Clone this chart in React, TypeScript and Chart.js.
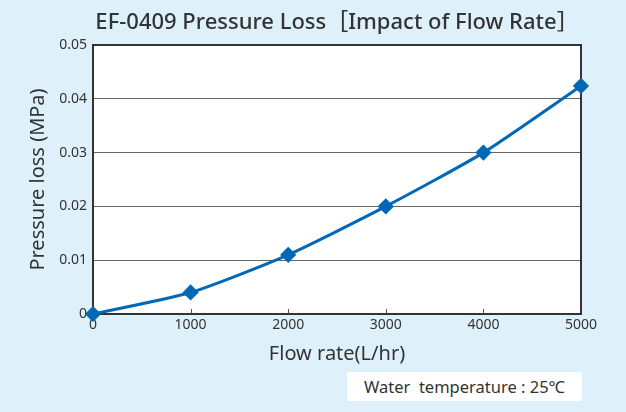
import React, { useEffect, useRef } from "react";
import { Chart, registerables } from "chart.js";

Chart.register(...registerables);

const flowRates = [0, 1000, 2000, 3000, 4000, 5000];
const pressureLoss = [0, 0.004, 0.011, 0.02, 0.03, 0.0424];
const yTickLabels = ["0", "0.01", "0.02", "0.03", "0.04", "0.05"];
const titleText = "EF-0409 Pressure Loss［Impact of Flow Rate］";
const xTitle = "Flow rate(L/hr)";
const yTitle = "Pressure loss (MPa)";
const noteText = "Water  temperature : 25℃";

const FONT = "'Noto Sans', 'Noto Sans CJK JP', sans-serif";
const BG = "#def1fb";
const LINE = "#0068b7";

export default function App() {
  const ref = useRef<HTMLCanvasElement | null>(null);

  useEffect(() => {
    document.body.style.margin = "0";
    const canvas = ref.current;
    if (!canvas) return;

    const framePlugin = {
      id: "frame",
      beforeDatasetsDraw(chart: any) {
        const { ctx, chartArea } = chart;
        const xs = chart.scales.x;
        ctx.save();
        ctx.strokeStyle = "#555";
        ctx.lineWidth = 1;
        flowRates.forEach((v, i) => {
          if (i === 0 || i === flowRates.length - 1) return;
          const px = Math.round(xs.getPixelForValue(v)) + 0.5;
          ctx.beginPath();
          ctx.moveTo(px, chartArea.bottom);
          ctx.lineTo(px, chartArea.bottom - 5);
          ctx.stroke();
        });
        ctx.strokeStyle = "#333";
        ctx.lineWidth = 2;
        ctx.strokeRect(
          chartArea.left,
          chartArea.top,
          chartArea.right - chartArea.left,
          chartArea.bottom - chartArea.top
        );
        ctx.restore();
      },
      afterDraw(chart: any) {
        const { ctx, chartArea } = chart;
        ctx.save();
        ctx.fillStyle = "#333";
        ctx.font = `500 22px ${FONT}`;
        ctx.textAlign = "center";
        ctx.textBaseline = "middle";
        ctx.fillText(titleText, (chartArea.left + chartArea.right) / 2, 23);
        ctx.restore();
      },
    };

    const bgPlugin = {
      id: "bg",
      beforeDraw(chart: any) {
        const { ctx, chartArea, width, height } = chart;
        ctx.save();
        ctx.fillStyle = BG;
        ctx.fillRect(0, 0, width, height);
        ctx.fillStyle = "#fff";
        ctx.fillRect(
          chartArea.left,
          chartArea.top,
          chartArea.right - chartArea.left,
          chartArea.bottom - chartArea.top
        );
        ctx.restore();
      },
    };

    const chart = new Chart(canvas, {
      type: "line",
      data: {
        datasets: [
          {
            data: flowRates.map((x, i) => ({ x, y: pressureLoss[i] })),
            borderColor: LINE,
            backgroundColor: LINE,
            borderWidth: 3,
            tension: 0.2,
            pointStyle: "rectRot",
            pointRadius: 6,
            pointHoverRadius: 6,
            clip: false,
          },
        ],
      },
      options: {
        animation: false,
        responsive: false,
        maintainAspectRatio: false,
        events: [],
        layout: { padding: { top: 45, right: 45, bottom: 46, left: 0 } },
        plugins: {
          legend: { display: false },
          tooltip: { enabled: false },
          title: { display: false },
        },
        scales: {
          x: {
            type: "linear",
            min: 0,
            max: 5000,
            afterFit(scale: any) {
              scale.height = 52;
            },
            afterBuildTicks(scale: any) {
              scale.ticks = flowRates.map((v) => ({ value: v }));
            },
            ticks: {
              color: "#333",
              font: { family: FONT, size: 14 },
              padding: 3,
              maxRotation: 0,
              autoSkip: false,
              callback: (v: any) => String(v),
            },
            grid: { display: false, drawTicks: false },
            border: { display: false },
            title: {
              display: true,
              text: xTitle,
              color: "#333",
              font: { family: FONT, size: 20 },
              padding: { top: 0, bottom: 0 },
            },
          },
          y: {
            type: "linear",
            min: 0,
            max: 0.05,
            afterFit(scale: any) {
              scale.width = 93;
            },
            afterBuildTicks(scale: any) {
              scale.ticks = yTickLabels.map((_, i) => ({ value: i * 0.01 }));
            },
            ticks: {
              color: "#333",
              font: { family: FONT, size: 14 },
              padding: 6,
              autoSkip: false,
              callback: (_v: any, i: number) => yTickLabels[i],
            },
            grid: { color: "#666", lineWidth: 1, drawTicks: false },
            border: { display: false },
            title: {
              display: true,
              text: yTitle,
              color: "#333",
              font: { family: FONT, size: 20 },
              padding: { top: 26, bottom: 0 },
            },
          },
        },
      },
      plugins: [bgPlugin, framePlugin],
    } as any);

    return () => chart.destroy();
  }, []);

  return (
    <div style={{ position: "relative", width: 626, height: 412, background: BG }}>
      <canvas ref={ref} width={626} height={412} style={{ display: "block" }} />
      <div
        style={{
          position: "absolute",
          left: 347,
          top: 372,
          width: 235,
          height: 29,
          background: "#fff",
          color: "#333",
          fontFamily: FONT,
          fontSize: 16.5,
          lineHeight: "29px",
          textAlign: "center",
          whiteSpace: "pre",
        }}
      >
        {noteText}
      </div>
    </div>
  );
}
